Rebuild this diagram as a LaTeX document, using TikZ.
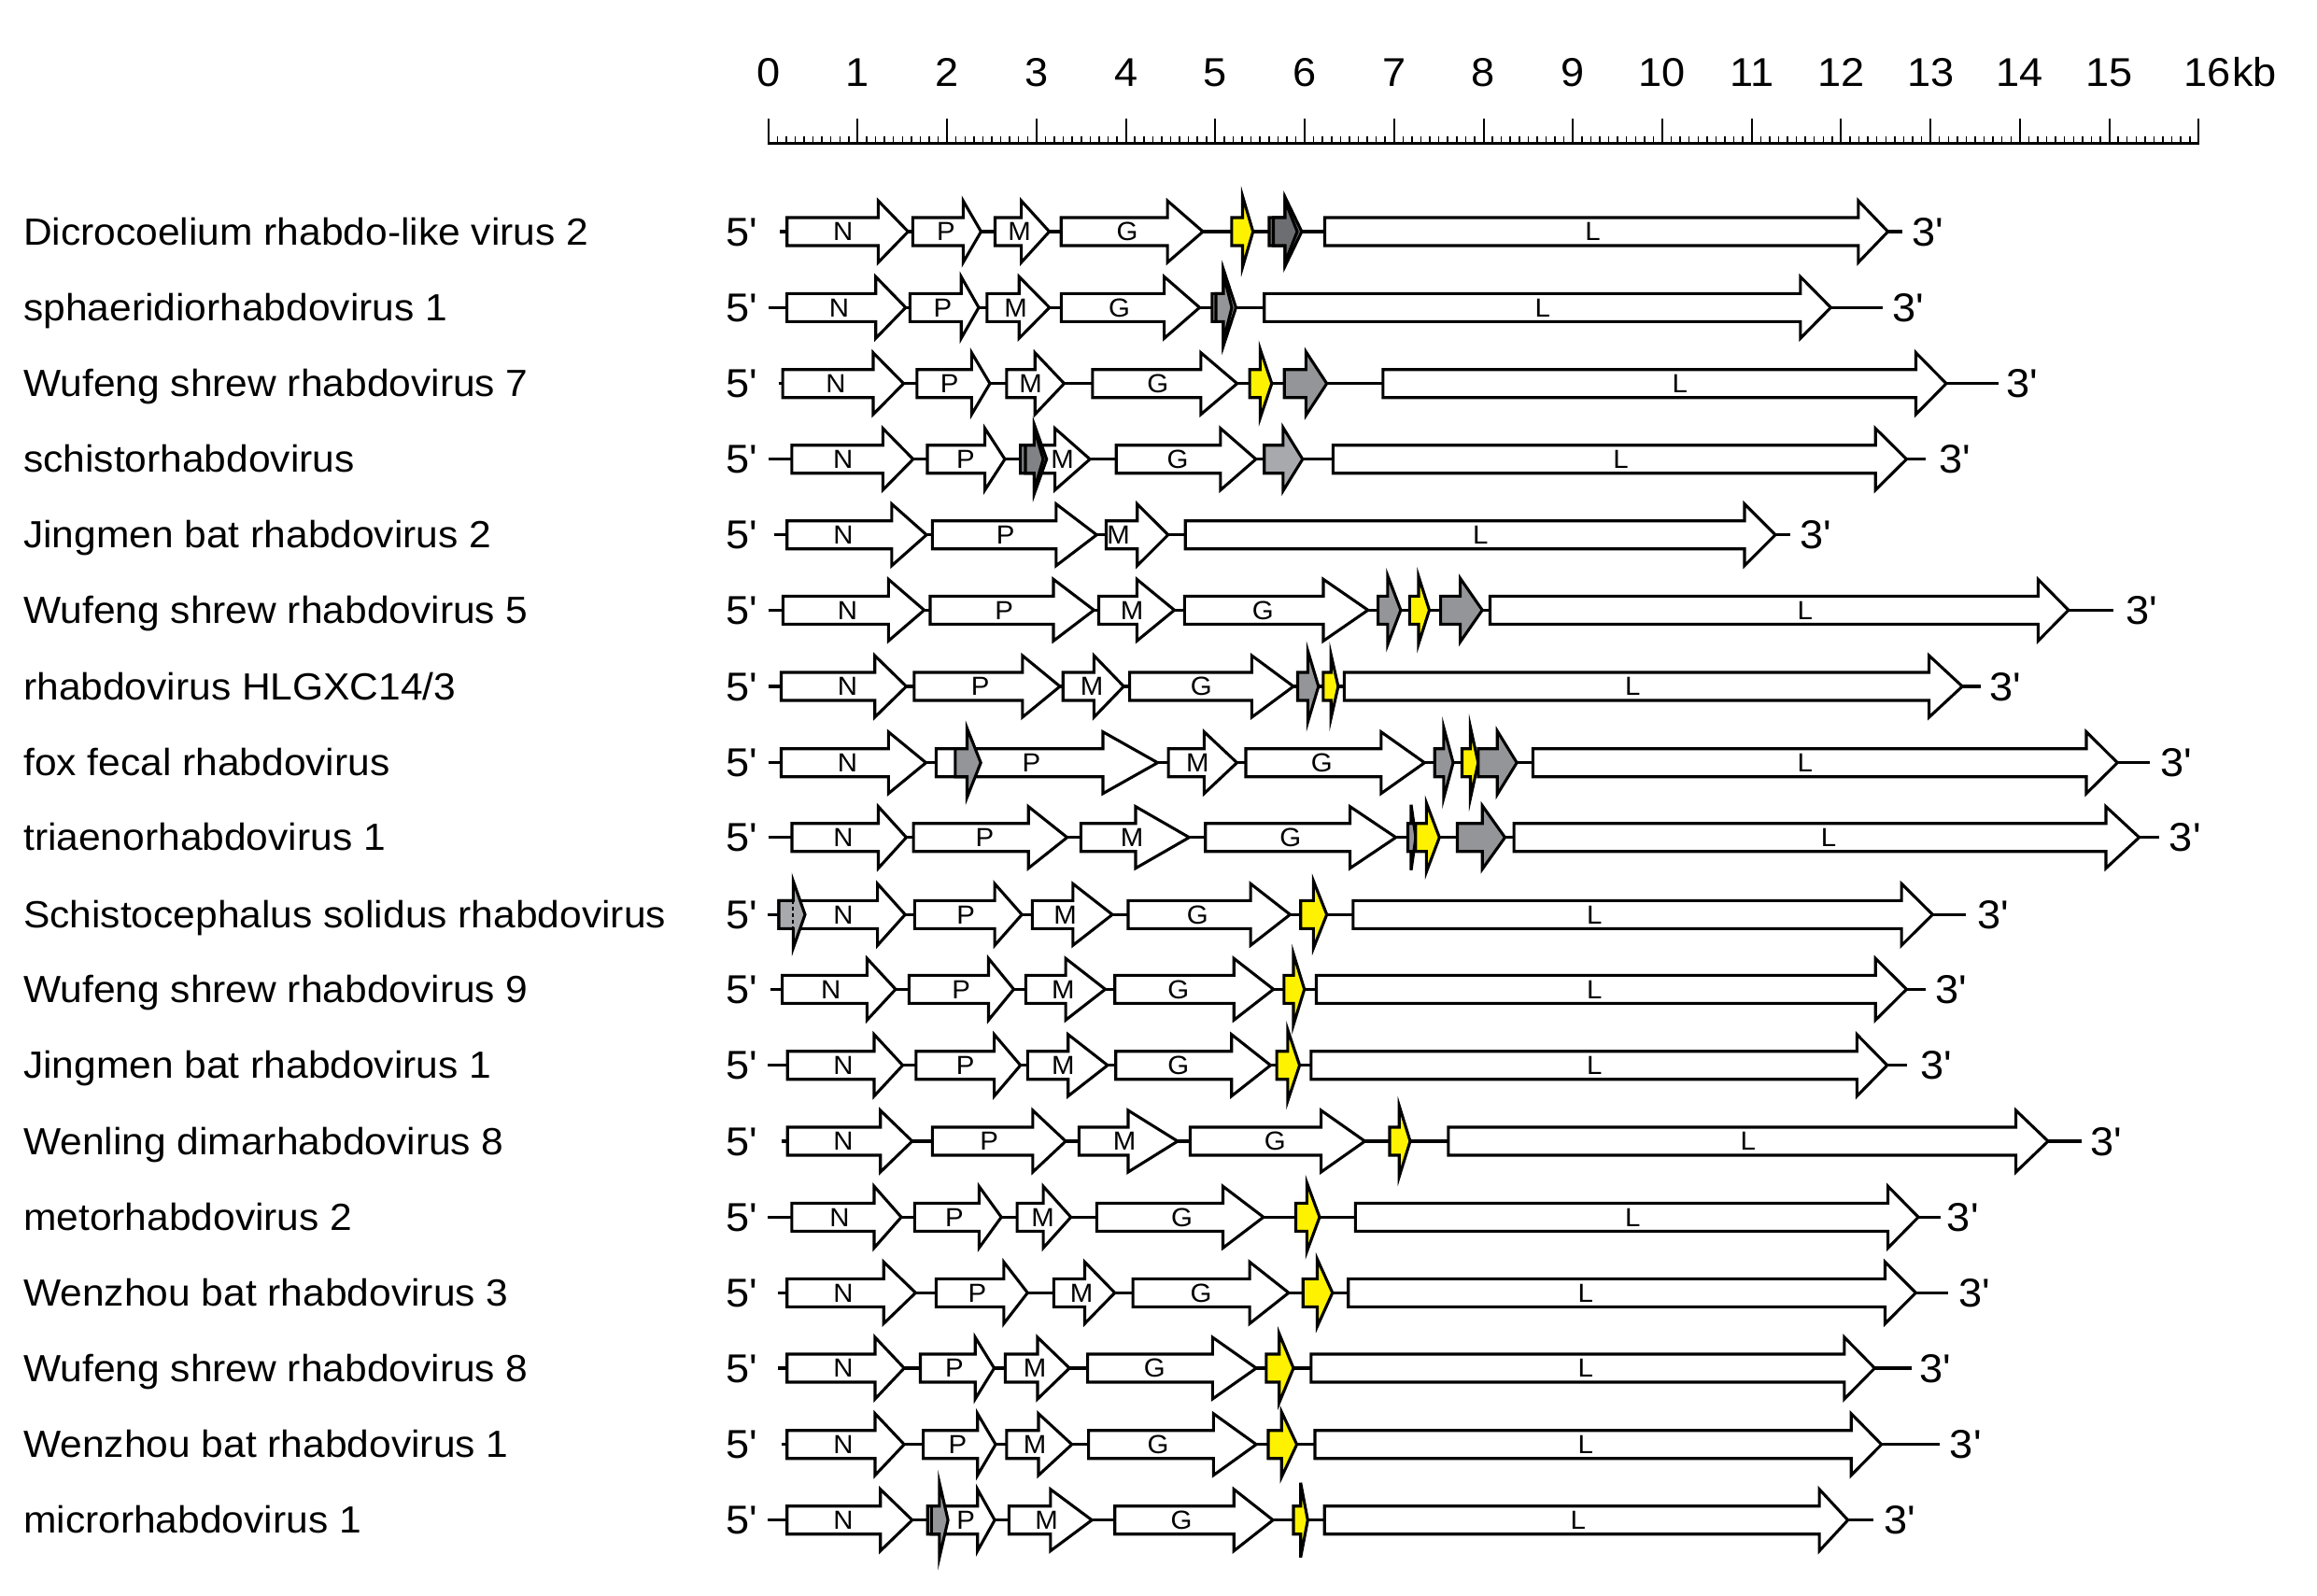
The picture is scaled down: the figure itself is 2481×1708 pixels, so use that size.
\documentclass[tikz,border=0pt]{standalone}
\usepackage{fontspec}
\setmainfont{Liberation Sans}[FakeStretch=1.05,Ligatures=TeXOff]
\definecolor{yel}{HTML}{FFF200}
\definecolor{mgray}{HTML}{939598}
\definecolor{dgray}{HTML}{6D6E71}
\definecolor{g2}{HTML}{808285}
\definecolor{lgray}{HTML}{A7A9AC}
\tikzset{
 gene/.style={draw=black, line width=3.1pt, line join=miter, miter limit=10},
 bb/.style={draw=black, line width=3.1pt},
 nm/.style={anchor=base west, inner sep=0pt, font=\fontsize{40.5}{44}\selectfont},
 endt/.style={anchor=base west, inner sep=0pt, font=\fontsize{43}{47}\selectfont},
 num/.style={anchor=base, inner sep=0pt, font=\fontsize{43}{47}\selectfont},
 glab/.style={anchor=base, inner sep=0pt, font=\fontsize{28}{32}\selectfont},
}
\newcounter{nc}
\newcommand{\gn}[4][white]{\draw[gene,fill=#1] (#2,\ry-15) -- (#3,\ry-15) -- (#3,\ry-33) -- (#4,\ry) -- (#3,\ry+33) -- (#3,\ry+15) -- (#2,\ry+15) -- cycle;}
\newcommand{\sm}[5]{\draw[gene,fill=#1] (#2,\ry-15) -- (#3,\ry-15) -- (#3,\ry-#5) -- (#4,\ry) -- (#3,\ry+#5) -- (#3,\ry+15) -- (#2,\ry+15) -- cycle;}
\newcommand{\lab}[2]{\stepcounter{nc}\node[glab] (g\arabic{nc}) at (#1,\ry+9.8) {#2};}
\newcommand{\rowstart}[4]{\def\ry{#1}\stepcounter{nc}\node[nm] (name\arabic{nc}) at (25,\ry+14.2) {#2};\node[endt] (five\arabic{nc}) at (777,\ry+15) {5'};\draw[bb] (#3,\ry) -- (#4,\ry);}
\newcommand{\three}[1]{\stepcounter{nc}\node[endt] (three\arabic{nc}) at (#1-2,\ry+15) {3'};}
\begin{document}
\begin{tikzpicture}[x=1pt,y=-1pt]
\useasboundingbox (0,0) rectangle (2481,1708);
% scale bar
\draw[line width=2.7pt] (822.7,153.3) -- (2354.3,153.3);
\foreach \i in {1,...,159} \draw[line width=1.5pt] ({822.7+\i*9.5725},146) -- ({822.7+\i*9.5725},153.3);
\foreach \k in {0,...,16} \draw[line width=2pt] ({822.7+\k*95.725},127.3) -- ({822.7+\k*95.725},154.5);
\foreach \k in {0,...,15} \node[num] (s\k) at ({822.7+\k*95.725},92.7) {\k};
\node[endt] (s16) at (2338,92.7) {16};
\node[endt] (kb) at (2390,92.7) {kb};
% row 1
\rowstart{248}{Dicrocoelium rhabdo-like virus 2}{835}{2036.9}
\gn{842.7}{940.4}{972.4}
\gn{977.4}{1031.3}{1050.5}
\gn{1065.5}{1093.6}{1123.6}
\gn{1136.2}{1250.1}{1288.1}
\sm{yel}{1318.9}{1330.5}{1341.7}{38}
\sm{dgray}{1359}{1376}{1393.9}{37}
\sm{dgray}{1363.5}{1376}{1389}{33}
\gn{1418.5}{1989.8}{2021.6}
\lab{902.8}{N}\lab{1012.9}{P}\lab{1091.7}{M}\lab{1207.1}{G}\lab{1705.6}{L}
\three{2049.5}
% row 2
\rowstart{329.3}{sphaeridiorhabdovirus 1}{822.5}{2015.9}
\gn{842.6}{937.7}{969.8}
\gn{974.3}{1029.2}{1048}
\gn{1056.9}{1091.2}{1123.8}
\gn{1136.3}{1246.6}{1284.5}
\sm{mgray}{1297.9}{1310}{1323.4}{41}
\sm{mgray}{1302}{1310}{1319}{36}
\gn{1353.7}{1927.8}{1960.4}
\lab{898.4}{N}\lab{1009.5}{P}\lab{1087.7}{M}\lab{1198.6}{G}\lab{1651.8}{L}
\three{2028.5}
% row 3
\rowstart{410.7}{Wufeng shrew rhabdovirus 7}{833.7}{2139.5}
\gn{838.1}{935}{967.6}
\gn{981.9}{1040.4}{1060}
\gn{1077.9}{1108.2}{1139.5}
\gn{1169.8}{1285.9}{1324.7}
\sm{yel}{1338.1}{1349.3}{1361.8}{37}
\sm{mgray}{1375.2}{1398.4}{1420.7}{34}
\gn{1480.9}{2051.5}{2084}
\lab{895}{N}\lab{1016.7}{P}\lab{1103.7}{M}\lab{1239.9}{G}\lab{1798.9}{L}
\three{2149.8}
% row 4
\rowstart{491.7}{schistorhabdovirus}{822.5}{2061.8}
\gn{847.9}{945.3}{977.8}
\gn{993}{1054.6}{1076}
\gn{1114.9}{1129.6}{1167.1}
\sm{g2}{1092.6}{1107.3}{1120.7}{37.5}
\sm{g2}{1098}{1107.3}{1117}{33}
\gn{1195.2}{1306.9}{1344.8}
\sm{lgray}{1353.7}{1373.8}{1394.8}{34}
\gn{1427.4}{2008.2}{2041.5}
\lab{902.8}{N}\lab{1033.9}{P}\lab{1137.7}{M}\lab{1261.1}{G}\lab{1735.6}{L}
\three{2078.2}
% row 5
\rowstart{572.7}{Jingmen bat rhabdovirus 2}{828.9}{1917.1}
\gn{842.7}{954.9}{992.1}
\gn{998.3}{1130.9}{1174.3}
\gn{1184.5}{1217.7}{1250.8}
\gn{1269.2}{1868}{1901}
\lab{902.9}{N}\lab{1076.6}{P}\lab{1197.5}{M}\lab{1585.3}{L}
\three{1929}
% row 6
\rowstart{653.3}{Wufeng shrew rhabdovirus 5}{822.5}{2262.7}
\gn{838.4}{951.3}{989.6}
\gn{996}{1128}{1171.4}
\gn{1176.5}{1217.3}{1257.5}
\gn{1268.3}{1417}{1464.8}
\sm{mgray}{1475.6}{1485.8}{1499.9}{37}
\sm{yel}{1509.4}{1519}{1530.5}{36}
\sm{mgray}{1542.6}{1563.6}{1587.2}{34}
\gn{1595.5}{2182.3}{2214.9}
\lab{907.6}{N}\lab{1075.1}{P}\lab{1212.2}{M}\lab{1352.2}{G}\lab{1932.8}{L}
\three{2278}
% row 7
\rowstart{735}{rhabdovirus HLGXC14/3}{822.5}{2121.1}
\gn{836.5}{936.7}{970.5}
\gn{978.8}{1094.8}{1135}
\gn{1138.2}{1171.4}{1203.3}
\gn{1209.6}{1340.4}{1385}
\sm{mgray}{1389.5}{1400.4}{1411.8}{38}
\sm{yel}{1416.9}{1425.2}{1432.9}{34}
\gn{1439.3}{2065.6}{2101.2}
\lab{907.6}{N}\lab{1049.6}{P}\lab{1169.1}{M}\lab{1286.2}{G}\lab{1748.3}{L}
\three{2132.6}
% row 8
\rowstart{816.7}{fox fecal rhabdovirus}{822.5}{2301.7}
\gn{836.5}{951.3}{991.5}
\gn{1002.4}{1181}{1239.6}
\sm{mgray}{1022.8}{1035.5}{1050.2}{37}
\gn{1251.1}{1289.4}{1324.5}
\gn{1334}{1478.8}{1525.4}
\sm{mgray}{1536.2}{1545.8}{1556}{38}
\sm{yel}{1565.5}{1574.5}{1582.8}{38}
\sm{mgray}{1582.8}{1603.2}{1624.2}{34}
\gn{1641.4}{2234}{2267.3}
\lab{907.6}{N}\lab{1104.4}{P}\lab{1282.4}{M}\lab{1415.3}{G}\lab{1932.8}{L}
\three{2315.5}
% row 9
\rowstart{896.7}{triaenorhabdovirus 1}{822.5}{2311.7}
\gn{848}{940.5}{970.5}
\gn{978.1}{1101.2}{1142.7}
\gn{1157.3}{1216}{1273.4}
\gn{1290.7}{1445.6}{1494.7}
\sm{mgray}{1507.5}{1511}{1516}{35}
\sm{yel}{1515.8}{1527.3}{1541.3}{37}
\sm{mgray}{1560.5}{1587.2}{1611.5}{34}
\gn{1621.1}{2255}{2290.6}
\lab{902.9}{N}\lab{1054.3}{P}\lab{1212.2}{M}\lab{1381.9}{G}\lab{1957.9}{L}
\three{2324.7}
% row 10
\rowstart{979.3}{Schistocephalus solidus rhabdovirus}{822.2}{2105}
\gn{834}{939.6}{969.2}
\sm{lgray}{834}{849.3}{862}{36}
\draw[line width=2pt, dash pattern=on 4pt off 3pt] (849.3,\ry-15) -- (849.3,\ry+15);
\gn{979.4}{1065.1}{1094.2}
\gn{1105.4}{1148.8}{1191.1}
\gn{1208}{1339.1}{1381.4}
\sm{yel}{1392.7}{1406.4}{1420.7}{36}
\gn{1448.8}{2036.1}{2069.4}
\lab{902.9}{N}\lab{1034.2}{P}\lab{1140.6}{M}\lab{1282.2}{G}\lab{1707.2}{L}
\three{2119.2}
% row 11
\rowstart{1059.3}{Wufeng shrew rhabdovirus 9}{825.3}{2061.8}
\gn{837.6}{928.4}{959}
\gn{973.3}{1058.5}{1085.5}
\gn{1098.3}{1141.1}{1183.5}
\gn{1193.7}{1321.2}{1363.6}
\sm{yel}{1374.8}{1385}{1396.7}{38}
\gn{1409.5}{2008.2}{2041.5}
\lab{889.8}{N}\lab{1029.1}{P}\lab{1138.3}{M}\lab{1261.8}{G}\lab{1707.2}{L}
\three{2074.4}
% row 12
\rowstart{1140.7}{Jingmen bat rhabdovirus 1}{822.2}{2041.5}
\gn{843.2}{936}{966.6}
\gn{980.9}{1064.6}{1092.7}
\gn{1100.3}{1143.7}{1186}
\gn{1194.7}{1318.7}{1360.5}
\sm{yel}{1367.1}{1378.9}{1391.6}{38}
\gn{1403.9}{1988.3}{2020.8}
\lab{902.9}{N}\lab{1033.7}{P}\lab{1138.3}{M}\lab{1261.8}{G}\lab{1707.2}{L}
\three{2058}
% row 13
\rowstart{1222}{Wenling dimarhabdovirus 8}{836.5}{2229}
\gn{843.2}{942.7}{976.8}
\gn{998.3}{1105.9}{1141.1}
\gn{1155.4}{1208}{1261}
\gn{1274.3}{1414.6}{1461.5}
\sm{yel}{1488}{1498.2}{1510}{38}
\gn{1550.8}{2158.6}{2193}
\lab{902.9}{N}\lab{1059.2}{P}\lab{1204.1}{M}\lab{1365.4}{G}\lab{1871.7}{L}
\three{2240.5}
% row 14
\rowstart{1303.3}{metorhabdovirus 2}{822.2}{2078.2}
\gn{847.8}{936}{965.1}
\gn{979.4}{1048.3}{1072.2}
\gn{1089.1}{1117.1}{1146.7}
\gn{1174.3}{1309.5}{1352.9}
\sm{yel}{1387.5}{1399.3}{1413}{37}
\gn{1451.3}{2021.6}{2054.1}
\lab{899}{N}\lab{1022}{P}\lab{1116.6}{M}\lab{1265.6}{G}\lab{1748.3}{L}
\three{2086.7}
% row 15
\rowstart{1384.3}{Wenzhou bat rhabdovirus 3}{833}{2085.9}
\gn{842.7}{946.2}{980.4}
\gn{1002.3}{1074.8}{1100.3}
\gn{1128.4}{1161.5}{1193.7}
\gn{1213.1}{1338.1}{1379.9}
\sm{yel}{1395.2}{1410.5}{1426.8}{36}
\gn{1443.7}{2018.5}{2051.4}
\lab{902.9}{N}\lab{1046.5}{P}\lab{1158.2}{M}\lab{1286}{G}\lab{1697.7}{L}
\three{2099.3}
% row 16
\rowstart{1465}{Wufeng shrew rhabdovirus 8}{833}{2046.5}
\gn{842.7}{937}{968.2}
\gn{985.5}{1044.2}{1064.6}
\gn{1076.3}{1111}{1145.2}
\gn{1164.6}{1298.3}{1345.2}
\sm{yel}{1355.9}{1369.7}{1385}{37}
\gn{1403.9}{1974.9}{2007.4}
\lab{902.9}{N}\lab{1022}{P}\lab{1108.2}{M}\lab{1236.3}{G}\lab{1697.7}{L}
\three{2057.2}
% row 17
\rowstart{1546.7}{Wenzhou bat rhabdovirus 1}{836.5}{2077.1}
\gn{842.7}{937}{968.2}
\gn{988.6}{1046.7}{1066.1}
\gn{1077.9}{1112}{1147.8}
\gn{1165.6}{1299.3}{1345.2}
\sm{yel}{1358}{1372.2}{1388.6}{35}
\gn{1408}{1982.2}{2014.7}
\lab{902.9}{N}\lab{1025.3}{P}\lab{1108.2}{M}\lab{1240.1}{G}\lab{1697.7}{L}
\three{2089.7}
% row 18
\rowstart{1627.7}{microrhabdovirus 1}{822.2}{2006.3}
\gn{842.7}{942.7}{976.8}
\gn{993.2}{1046.7}{1065.1}
\sm{mgray}{997.2}{1005.9}{1015.1}{40}
\gn{1080.4}{1124.8}{1169.2}
\gn{1193.7}{1321.2}{1363.1}
\sm{yel}{1385}{1392.7}{1400.3}{40}
\gn{1418.2}{1948.1}{1978.7}
\lab{902.9}{N}\lab{1034.2}{P}\lab{1120.5}{M}\lab{1265.1}{G}\lab{1689.8}{L}
\three{2018.9}
\end{tikzpicture}
\end{document}
